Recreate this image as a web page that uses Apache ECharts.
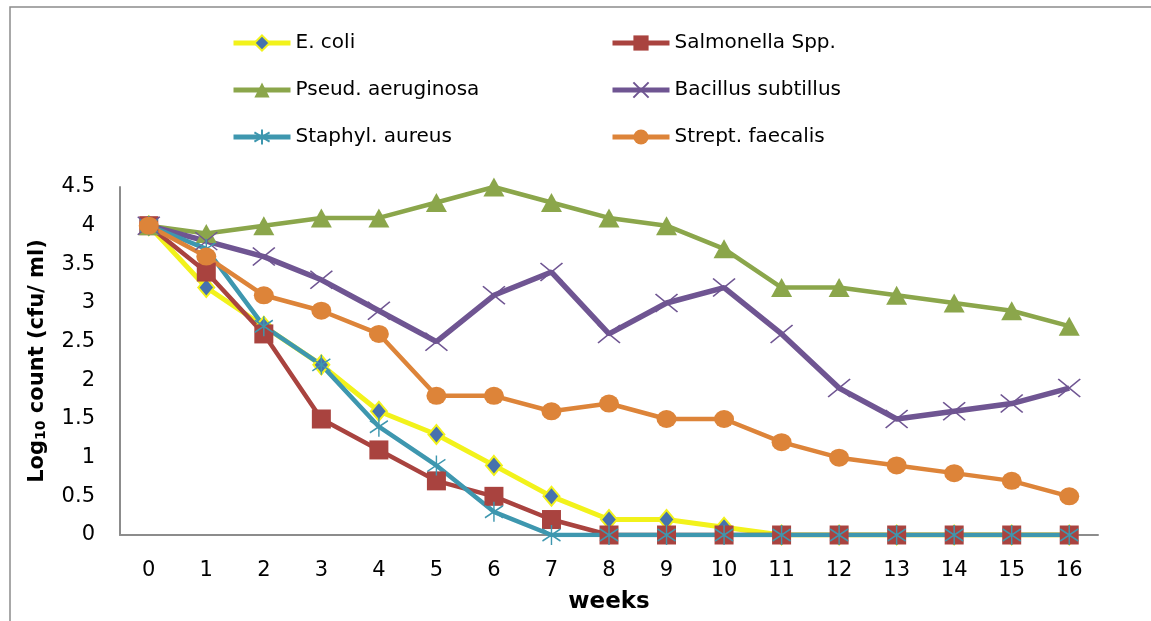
<!DOCTYPE html>
<html>
<head>
<meta charset="utf-8">
<script src="https://cdn.jsdelivr.net/npm/echarts@6/dist/echarts.min.js"></script>
<style>
  html, body { margin: 0; padding: 0; background: #fff; }
  #chart { width: 1151px; height: 621px; }
</style>
</head>
<body>
<div id="chart"></div>
<script>
// weeks 0..16
const weeks = ['0','1','2','3','4','5','6','7','8','9','10','11','12','13','14','15','16'];

const eColi      = [4, 3.2, 2.7, 2.2, 1.6, 1.3, 0.9, 0.5, 0.2, 0.2, 0.1, 0, 0, 0, 0, 0, 0];
const salmonella = [4, 3.4, 2.6, 1.5, 1.1, 0.7, 0.5, 0.2, 0, 0, 0, 0, 0, 0, 0, 0, 0];
const pseud      = [4, 3.9, 4.0, 4.1, 4.1, 4.3, 4.5, 4.3, 4.1, 4.0, 3.7, 3.2, 3.2, 3.1, 3.0, 2.9, 2.7];
const bacillus   = [4, 3.8, 3.6, 3.3, 2.9, 2.5, 3.1, 3.4, 2.6, 3.0, 3.2, 2.6, 1.9, 1.5, 1.6, 1.7, 1.9];
const staphyl    = [4, 3.7, 2.7, 2.2, 1.4, 0.9, 0.3, 0, 0, 0, 0, 0, 0, 0, 0, 0, 0];
const strept     = [4, 3.6, 3.1, 2.9, 2.6, 1.8, 1.8, 1.6, 1.7, 1.5, 1.5, 1.2, 1.0, 0.9, 0.8, 0.7, 0.5];

const font = '"DejaVu Sans", sans-serif';

// excel-like markers
const crossPath = 'path://M0,0L10,8M10,0L0,8';
const starPath = 'path://M5,0L5,10M0,2L10,8M0,8L10,2';

const myChart = echarts.init(document.getElementById('chart'));

function mkSeries(name, data, color, lineWidth, symbol, size, itemStyle) {
    return {
        name: name,
        type: 'line',
        data: data,
        symbol: symbol,
        symbolSize: size,
        showAllSymbol: true,
        animation: false,
        lineStyle: { color: color, width: lineWidth },
        itemStyle: itemStyle,
        emphasis: { disabled: true }
    };
}

function mkLegend(left, names) {
    return {
        orient: 'vertical',
        left: left,
        top: 33,
        padding: 0,
        itemWidth: 57,
        itemHeight: 19,
        itemGap: 27,
        lineStyle: { width: 5 },
        textStyle: { fontFamily: font, fontSize: 20, color: '#000', lineHeight: 20 },
        data: names
    };
}

const option = {
    backgroundColor: '#fff',
    graphic: [{
        type: 'rect',
        shape: { x: 10, y: 7, width: 1200, height: 700 },
        style: { fill: 'none', stroke: '#8c8c8c', lineWidth: 1.5 },
        silent: true
    }],
    legend: [
        mkLegend(231, ['E. coli', 'Pseud. aeruginosa', 'Staphyl. aureus']),
        mkLegend(610, ['Salmonella Spp.', 'Bacillus subtillus', 'Strept. faecalis'])
    ],
    grid: {
        left: 120,
        right: 53,
        top: 187,
        bottom: 86,
        containLabel: false
    },
    xAxis: {
        type: 'category',
        data: weeks,
        boundaryGap: true,
        name: 'weeks',
        nameLocation: 'middle',
        nameGap: 56,
        nameTextStyle: { fontFamily: font, fontSize: 23, fontWeight: 'bold', color: '#000' },
        axisLine: { lineStyle: { color: '#8c8c8c', width: 2 } },
        axisTick: { show: false },
        axisLabel: { fontFamily: font, fontSize: 21, color: '#000', margin: 25 },
        splitLine: { show: false }
    },
    yAxis: {
        type: 'value',
        min: 0,
        max: 4.5,
        interval: 0.5,
        name: '{a|Log}{s|10}{a| count (cfu/ ml)}',
        nameLocation: 'middle',
        nameRotate: 90,
        nameGap: 72,
        nameTextStyle: {
            rich: {
                a: { fontFamily: font, fontSize: 21, fontWeight: 'bold', color: '#000', lineHeight: 26, verticalAlign: 'bottom' },
                s: { fontFamily: font, fontSize: 14, fontWeight: 'bold', color: '#000', lineHeight: 14, verticalAlign: 'bottom' }
            }
        },
        axisLine: { show: true, lineStyle: { color: '#8c8c8c', width: 2 } },
        axisTick: { show: false },
        axisLabel: { fontFamily: font, fontSize: 21, color: '#000', margin: 25 },
        splitLine: { show: false }
    },
    series: [
        mkSeries('E. coli', eColi, '#f2f21b', 5, 'diamond', [16, 19],
            { color: '#4672ae', borderColor: '#f2f21b', borderWidth: 2 }),
        mkSeries('Salmonella Spp.', salmonella, '#a9433f', 4.5, 'rect', 19,
            { color: '#a9433f' }),
        mkSeries('Pseud. aeruginosa', pseud, '#8ba64b', 4.5, 'triangle', [21, 19],
            { color: '#8ba64b' }),
        mkSeries('Bacillus subtillus', bacillus, '#6f5592', 5.5, crossPath, [22, 18],
            { color: '#6f5592', borderColor: '#6f5592', borderWidth: 1.5 }),
        mkSeries('Staphyl. aureus', staphyl, '#3e97af', 4.5, starPath, [18, 20],
            { color: '#3e97af', borderColor: '#3e97af', borderWidth: 1.5 }),
        mkSeries('Strept. faecalis', strept, '#dd8439', 4.5, 'circle', [20, 18],
            { color: '#dd8439' })
    ]
};

myChart.setOption(option);
</script>
</body>
</html>
